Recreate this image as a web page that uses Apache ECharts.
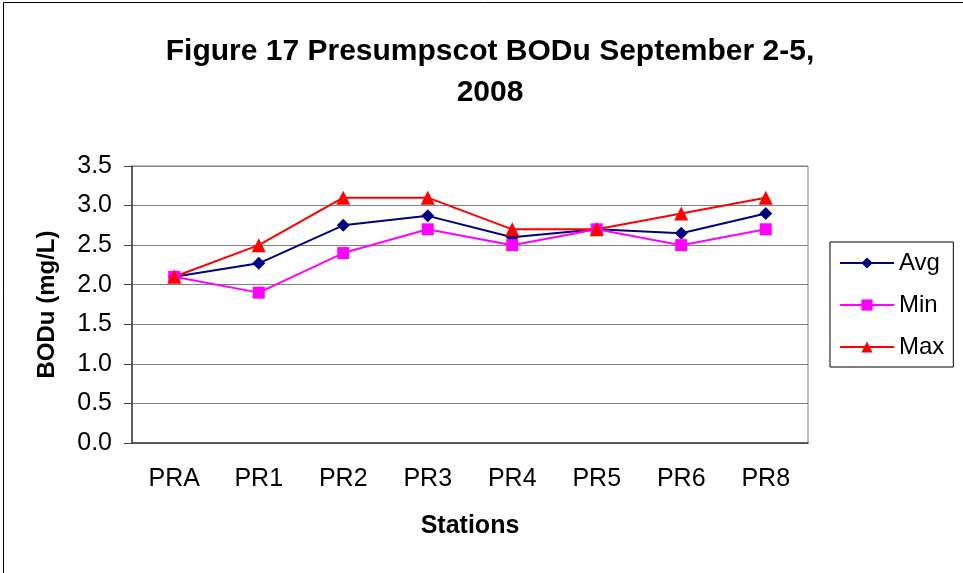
<!DOCTYPE html>
<html>
<head>
<meta charset="utf-8">
<script src="https://cdn.jsdelivr.net/npm/echarts@6/dist/echarts.min.js"></script>
<style>
  html, body { margin: 0; padding: 0; background: #fff; }
  #main { width: 963px; height: 573px; }
</style>
</head>
<body>
<div id="main"></div>
<script>
// stations along the river
const stations = ['PRA', 'PR1', 'PR2', 'PR3', 'PR4', 'PR5', 'PR6', 'PR8'];
// BODu in mg/L
const avgVals = [2.1, 2.27, 2.75, 2.87, 2.6, 2.7, 2.65, 2.9];
const minVals = [2.1, 1.9, 2.4, 2.7, 2.5, 2.7, 2.5, 2.7];
const maxVals = [2.1, 2.5, 3.1, 3.1, 2.7, 2.7, 2.9, 3.1];

const FONT = '"Liberation Sans", Arial, sans-serif';

var myChart = echarts.init(document.getElementById('main'));
myChart.setOption({
    animation: false,
    backgroundColor: '#fff',
    textStyle: { fontFamily: FONT },
    title: {
        text: 'Figure 17 Presumpscot BODu September 2-5,\n2008',
        left: 485,
        top: 26,
        textAlign: 'center',
        textStyle: { fontFamily: FONT, fontSize: 30, fontWeight: 'bold', color: '#000', lineHeight: 41 }
    },
    graphic: [{
        // outer chart frame
        type: 'rect',
        shape: { x: 3.5, y: 2.5, width: 1000, height: 600 },
        style: { fill: 'none', stroke: '#000', lineWidth: 1 },
        silent: true
    }],
    legend: {
        orient: 'vertical',
        left: 830,
        top: 242,
        padding: [9, 9, 8, 9],
        itemGap: 18,
        itemWidth: 54,
        itemHeight: 14,
        borderColor: '#000',
        borderWidth: 1,
        textStyle: { fontFamily: FONT, fontSize: 24, color: '#000' },
        data: ['Avg', 'Min', 'Max']
    },
    grid: {
        left: 132, right: 155, top: 166, bottom: 130,
        show: true, borderColor: '#808080', borderWidth: 1
    },
    xAxis: {
        type: 'category',
        data: stations,
        boundaryGap: true,
        name: 'Stations',
        nameLocation: 'middle',
        nameGap: 71,
        nameTextStyle: { fontFamily: FONT, fontSize: 25, fontWeight: 'bold', color: '#000' },
        axisLine: { lineStyle: { color: '#404040', width: 1.5 } },
        axisTick: { length: 8, lineStyle: { color: '#404040' } },
        axisLabel: { margin: 24, fontSize: 25, color: '#000', fontFamily: FONT }
    },
    yAxis: {
        type: 'value',
        min: 0, max: 3.5, interval: 0.5,
        name: 'BODu (mg/L)',
        nameLocation: 'middle',
        nameGap: 73,
        nameTextStyle: { fontFamily: FONT, fontSize: 24, fontWeight: 'bold', color: '#000' },
        axisLine: { show: true, lineStyle: { color: '#404040', width: 1.5 } },
        axisTick: { show: true, length: 8, lineStyle: { color: '#404040' } },
        axisLabel: { margin: 20, fontSize: 25, color: '#000', fontFamily: FONT,
            formatter: v => v.toFixed(1) },
        splitLine: { lineStyle: { color: '#808080', width: 1 } }
    },
    series: [
        { name: 'Avg', type: 'line', data: avgVals, symbol: 'diamond', symbolSize: 13,
          itemStyle: { color: '#000080' }, lineStyle: { color: '#000080', width: 2 } },
        { name: 'Min', type: 'line', data: minVals, symbol: 'rect', symbolSize: 12,
          itemStyle: { color: '#FF00FF' }, lineStyle: { color: '#FF00FF', width: 2 } },
        { name: 'Max', type: 'line', data: maxVals, symbol: 'triangle', symbolSize: 14,
          itemStyle: { color: '#FF0000' }, lineStyle: { color: '#FF0000', width: 2 } }
    ]
});
</script>
</body>
</html>
